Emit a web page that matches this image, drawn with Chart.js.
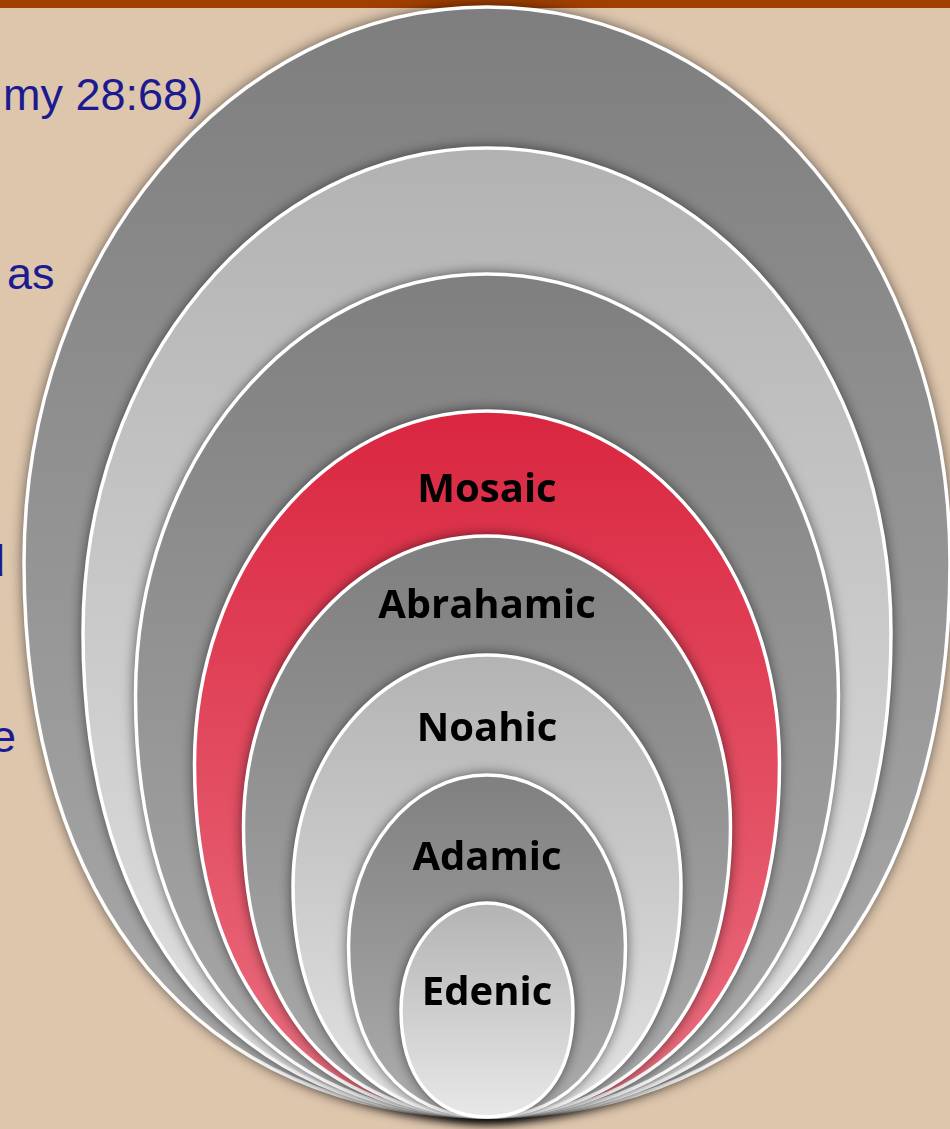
<!DOCTYPE html>
<html>
<head>
<meta charset="utf-8">
<script src="https://cdn.jsdelivr.net/npm/chart.js@4.4.0/dist/chart.umd.min.js"></script>
<style>
  html, body { margin: 0; padding: 0; background: #dec6ad; overflow: hidden; }
  #wrap { position: relative; width: 950px; height: 1129px; }
  #bar { position: absolute; left: 0; top: 0; width: 950px; height: 8px; background: #a03f00; }
  .frag {
    position: absolute; white-space: nowrap; line-height: 1;
    font-family: "Liberation Sans", Arial, sans-serif; font-size: 45px; color: #1b1b8f;
  }
  canvas { position: absolute; left: 0; top: 0; }
</style>
</head>
<body>
<div id="wrap">
  <div id="bar"></div>
  <div class="frag" style="right:747px;top:72px">my 28:68)</div>
  <div class="frag" style="left:7px;top:251px">as</div>
  <div class="frag" style="right:945px;top:538px">d</div>
  <div class="frag" style="right:934px;top:714px">e</div>
  <canvas id="rings" width="950" height="1129"></canvas>
</div>
<script>
// DATA: rings from outermost to innermost, all resting on the same base line
const rings = ["", "", "", "Mosaic", "Abrahamic", "Noahic", "Adamic", "Edenic"];
const ringWidths = [926, 808, 703, 585, 487, 388, 277, 172];
const ringHeights = [1110, 969, 843, 706, 581, 462, 342, 214];
const labelHeights = [null, null, null, 630, 514, 391, 262, 127];

// STYLES
const topColors = ["#7e7e7e", "#b2b2b2", "#7f7f7f", "#da2640", "#7f7f7f", "#b3b3b3", "#808080", "#b3b3b3"];
const bottomColors = ["#ababab", "#e2e2e2", "#aaaaaa", "#ea7080", "#acacac", "#e3e3e3", "#adadad", "#e8e8e8"];

// ellipse-like outline, a bit fuller in the lower half
function ringPath(ctx, cx, cy, rx, ry) {
  const kt = 0.5523; // upper half: true ellipse
  const kb = 0.62; // lower half: fuller
  ctx.beginPath();
  ctx.moveTo(cx, cy - ry);
  ctx.bezierCurveTo(cx + kt * rx, cy - ry, cx + rx, cy - kt * ry, cx + rx, cy);
  ctx.bezierCurveTo(cx + rx, cy + kb * ry, cx + kb * rx, cy + ry, cx, cy + ry);
  ctx.bezierCurveTo(cx - kb * rx, cy + ry, cx - rx, cy + kb * ry, cx - rx, cy);
  ctx.bezierCurveTo(cx - rx, cy - kt * ry, cx - kt * rx, cy - ry, cx, cy - ry);
  ctx.closePath();
}

// draws every ring using the chart scales
const ringPlugin = {
  id: "rings",
  beforeDatasetsDraw(chart) {
    const { ctx, scales } = chart;
    const x = scales.x, y = scales.y;
    const cx = x.getPixelForValue(0);
    const base = y.getPixelForValue(0);
    rings.forEach((name, i) => {
      const rx = x.getPixelForValue(ringWidths[i] / 2) - cx;
      const top = y.getPixelForValue(ringHeights[i]);
      const ry = (base - top) / 2;
      const cy = top + ry;

      const grad = ctx.createLinearGradient(0, top, 0, base);
      grad.addColorStop(0, topColors[i]);
      grad.addColorStop(1, bottomColors[i]);

      ctx.save();
      ringPath(ctx, cx, cy, rx, ry);
      ctx.shadowColor = "rgba(0,0,0,0.7)";
      ctx.shadowBlur = 14;
      ctx.fillStyle = grad;
      ctx.fill();
      ctx.shadowColor = "transparent";
      ctx.lineWidth = 3.5;
      ctx.strokeStyle = "#ffffff";
      ctx.stroke();
      ctx.restore();
    });
  },
  afterDatasetsDraw(chart) {
    const { ctx } = chart;
    const meta = chart.getDatasetMeta(0);
    ctx.save();
    ctx.font = "bold 40px 'Open Sans'";
    ctx.fillStyle = "#000000";
    ctx.textAlign = "center";
    ctx.textBaseline = "alphabetic";
    meta.data.forEach((pt, i) => {
      ctx.fillText(labelNames[i], pt.x, pt.y + 15);
    });
    ctx.restore();
  }
};

const labelNames = rings.filter((r, i) => labelHeights[i] !== null);
const labelPoints = labelHeights.filter((h) => h !== null).map((h) => ({ x: 0, y: h }));

const ctx = document.getElementById("rings").getContext("2d");
new Chart(ctx, {
  type: "scatter",
  data: {
    datasets: [
      {
        label: "Covenants",
        data: labelPoints,
        pointRadius: 0,
      },
    ],
  },
  options: {
    responsive: false,
    animation: false,
    events: [],
    layout: { padding: 0 },
    plugins: {
      legend: { display: false },
      tooltip: { enabled: false },
    },
    scales: {
      x: { display: false, min: -487, max: 463 },
      y: { display: false, min: -12, max: 1117 },
    },
  },
  plugins: [ringPlugin],
});
</script>
</body>
</html>
